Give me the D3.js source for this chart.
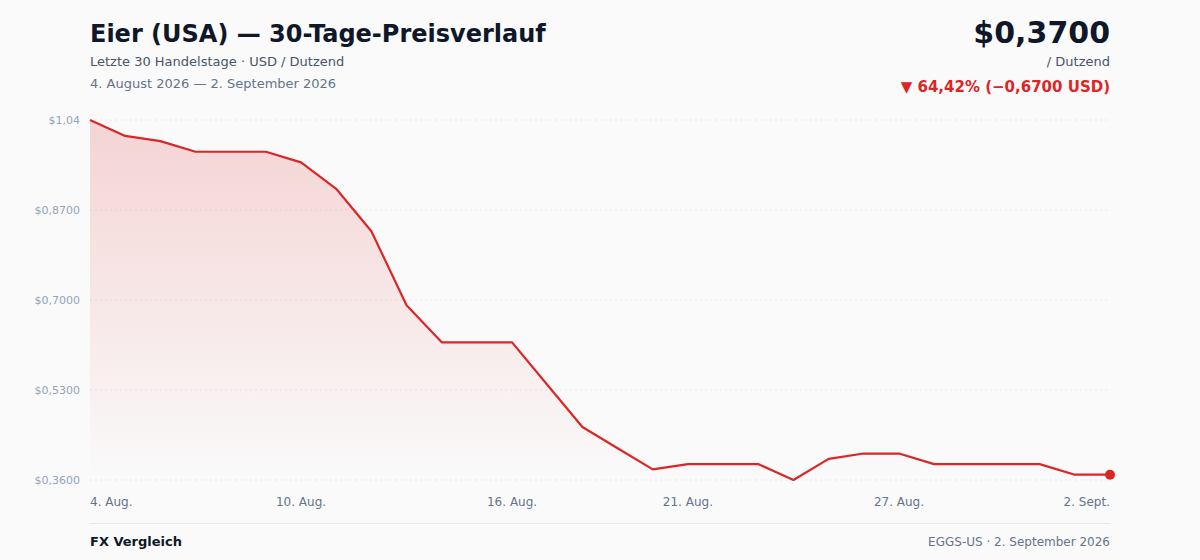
<!DOCTYPE html>
<html><head><meta charset="utf-8">
<script src="https://cdn.jsdelivr.net/npm/d3@7"></script>
<style>
html,body{margin:0;padding:0;background:#fafafa;}
svg{display:block;font-family:"DejaVu Sans",sans-serif;}
</style></head>
<body><svg id="c" width="1200" height="560"></svg>
<script>
const dates = ["4. Aug.","5. Aug.","6. Aug.","7. Aug.","8. Aug.","9. Aug.","10. Aug.","11. Aug.","12. Aug.","13. Aug.","14. Aug.","15. Aug.","16. Aug.","17. Aug.","18. Aug.","19. Aug.","20. Aug.","21. Aug.","22. Aug.","23. Aug.","24. Aug.","25. Aug.","26. Aug.","27. Aug.","28. Aug.","29. Aug.","30. Aug.","31. Aug.","1. Sept.","2. Sept."];
const prices = [1.04,1.01,1.00,0.98,0.98,0.98,0.96,0.91,0.83,0.69,0.62,0.62,0.62,0.54,0.46,0.42,0.38,0.39,0.39,0.39,0.36,0.40,0.41,0.41,0.39,0.39,0.39,0.39,0.37,0.37];
const yTicks = [1.04,0.87,0.70,0.53,0.36];
const yTickLabels = ["$1,04","$0,8700","$0,7000","$0,5300","$0,3600"];
const xTickIdx = [0,6,12,17,23,29];

const svg = d3.select("#c");
const L=90,R=1110,T=120,B=480;
const x = d3.scaleLinear().domain([0,prices.length-1]).range([L,R]);
const y = d3.scaleLinear().domain([0.36,1.04]).range([B,T]);
const red="#dc2626";

const defs=svg.append("defs");
const g=defs.append("linearGradient").attr("id","fillg").attr("x1",0).attr("y1",0).attr("x2",0).attr("y2",1);
g.append("stop").attr("offset","0%").attr("stop-color",red).attr("stop-opacity",0.18);
g.append("stop").attr("offset","100%").attr("stop-color",red).attr("stop-opacity",0.0);

// grid
svg.append("g").selectAll("line").data(yTicks).join("line")
 .attr("x1",L).attr("x2",R).attr("y1",d=>y(d)).attr("y2",d=>y(d))
 .attr("stroke","#e2e8f0").attr("stroke-dasharray","2,3").attr("stroke-width",1);
svg.append("g").selectAll("text").data(yTicks).join("text")
 .attr("x",L-10).attr("y",d=>y(d)+4).attr("text-anchor","end")
 .attr("font-size",11).attr("fill","#94a3b8").text((d,i)=>yTickLabels[i]);

// area + line
const area=d3.area().x((d,i)=>x(i)).y0(B).y1(d=>y(d));
svg.append("path").datum(prices).attr("d",area).attr("fill","url(#fillg)");
const line=d3.line().x((d,i)=>x(i)).y(d=>y(d));
svg.append("path").datum(prices).attr("d",line).attr("fill","none").attr("stroke",red).attr("stroke-width",2.2).attr("stroke-linejoin","round");
svg.append("circle").attr("cx",x(prices.length-1)).attr("cy",y(prices[prices.length-1])).attr("r",5).attr("fill",red);

// x labels
svg.append("g").selectAll("text").data(xTickIdx).join("text")
 .attr("x",d=>x(d)).attr("y",506)
 .attr("text-anchor",(d,i)=>i===0?"start":(i===xTickIdx.length-1?"end":"middle"))
 .attr("font-size",12).attr("fill","#64748b").text(d=>dates[d]);

// header
svg.append("text").attr("x",L).attr("y",42).attr("font-size",24).attr("font-weight","bold").attr("fill","#0f172a").text("Eier (USA) — 30-Tage-Preisverlauf");
svg.append("text").attr("x",L).attr("y",66).attr("font-size",13).attr("fill","#475569").text("Letzte 30 Handelstage · USD / Dutzend");
svg.append("text").attr("x",L).attr("y",88).attr("font-size",13).attr("fill","#64748b").text("4. August 2026 — 2. September 2026");
svg.append("text").attr("x",R).attr("y",43).attr("text-anchor","end").attr("font-size",30).attr("font-weight","bold").attr("fill","#0f172a").text("$0,3700");
svg.append("text").attr("x",R).attr("y",66).attr("text-anchor","end").attr("font-size",13).attr("fill","#475569").text("/ Dutzend");
svg.append("text").attr("x",R).attr("y",92).attr("text-anchor","end").attr("font-size",15).attr("font-weight","bold").attr("fill",red).text("▼ 64,42% (−0,6700 USD)");

// footer
svg.append("line").attr("x1",L).attr("x2",R).attr("y1",523.5).attr("y2",523.5).attr("stroke","#e5e7eb").attr("stroke-width",1);
svg.append("text").attr("x",L).attr("y",546).attr("font-size",13).attr("font-weight","bold").attr("fill","#0f172a").text("FX Vergleich");
svg.append("text").attr("x",R).attr("y",546).attr("text-anchor","end").attr("font-size",12).attr("fill","#64748b").text("EGGS-US · 2. September 2026");
</script></body></html>
